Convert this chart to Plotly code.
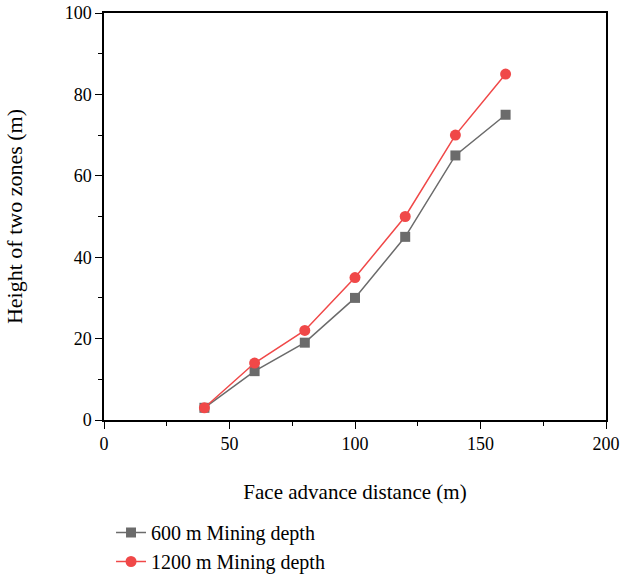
import plotly.graph_objects as go

face_advance = [40, 60, 80, 100, 120, 140, 160]
depth_600 = [3, 12, 19, 30, 45, 65, 75]
depth_1200 = [3, 14, 22, 35, 50, 70, 85]
series_names = ["600 m Mining depth", "1200 m Mining depth"]

FONT = "Liberation Serif"

fig = go.Figure()
fig.add_trace(go.Scatter(
    x=face_advance, y=depth_600, name=series_names[0], mode="lines+markers",
    line=dict(color="#6b6b6b", width=1.5),
    marker=dict(symbol="square", size=10, color="#6b6b6b"),
))
fig.add_trace(go.Scatter(
    x=face_advance, y=depth_1200, name=series_names[1], mode="lines+markers",
    line=dict(color="#f04848", width=1.5),
    marker=dict(symbol="circle", size=11, color="#f04848"),
))

axis_common = dict(
    showline=True, linecolor="black", linewidth=1.5, mirror=True,
    ticks="outside", ticklen=7, tickwidth=1.2, tickcolor="black",
    showgrid=False, zeroline=False, automargin=False,
    ticklabeloverflow="allow",
    tickfont=dict(family=FONT, size=18, color="black"),
)

fig.update_layout(
    width=623, height=576,
    margin=dict(l=104, r=17, t=13, b=156, autoexpand=False),
    paper_bgcolor="white", plot_bgcolor="white",
    font=dict(family=FONT, color="black"),
    xaxis=dict(
        range=[0, 200], tickvals=[0, 50, 100, 150, 200],
        minor=dict(tickvals=[25, 75, 125, 175], ticklen=4, tickcolor="black", ticks="outside", tickwidth=1.2),
        title=dict(text="Face advance distance (m)", font=dict(family=FONT, size=21), standoff=31),
        **axis_common,
    ),
    yaxis=dict(
        range=[0, 100], tickvals=[0, 20, 40, 60, 80, 100],
        minor=dict(tickvals=[10, 30, 50, 70, 90], ticklen=4, tickcolor="black", ticks="outside", tickwidth=1.2),
        title=dict(text="Height of two zones (m)", font=dict(family=FONT, size=22), standoff=36),
        **axis_common,
    ),
    legend=dict(
        x=0.014, y=-0.2285, xanchor="left", yanchor="top",
        font=dict(family=FONT, size=20, color="black"),
        bgcolor="rgba(0,0,0,0)", tracegroupgap=0, itemwidth=30,
    ),
    showlegend=True,
)

# remove the browser's default 8px body margin so the figure fills the window
fig.write_html(
    "out.html",
    config={"displayModeBar": False},
    post_script="document.body.style.margin='0';document.body.style.overflow='hidden';",
)
